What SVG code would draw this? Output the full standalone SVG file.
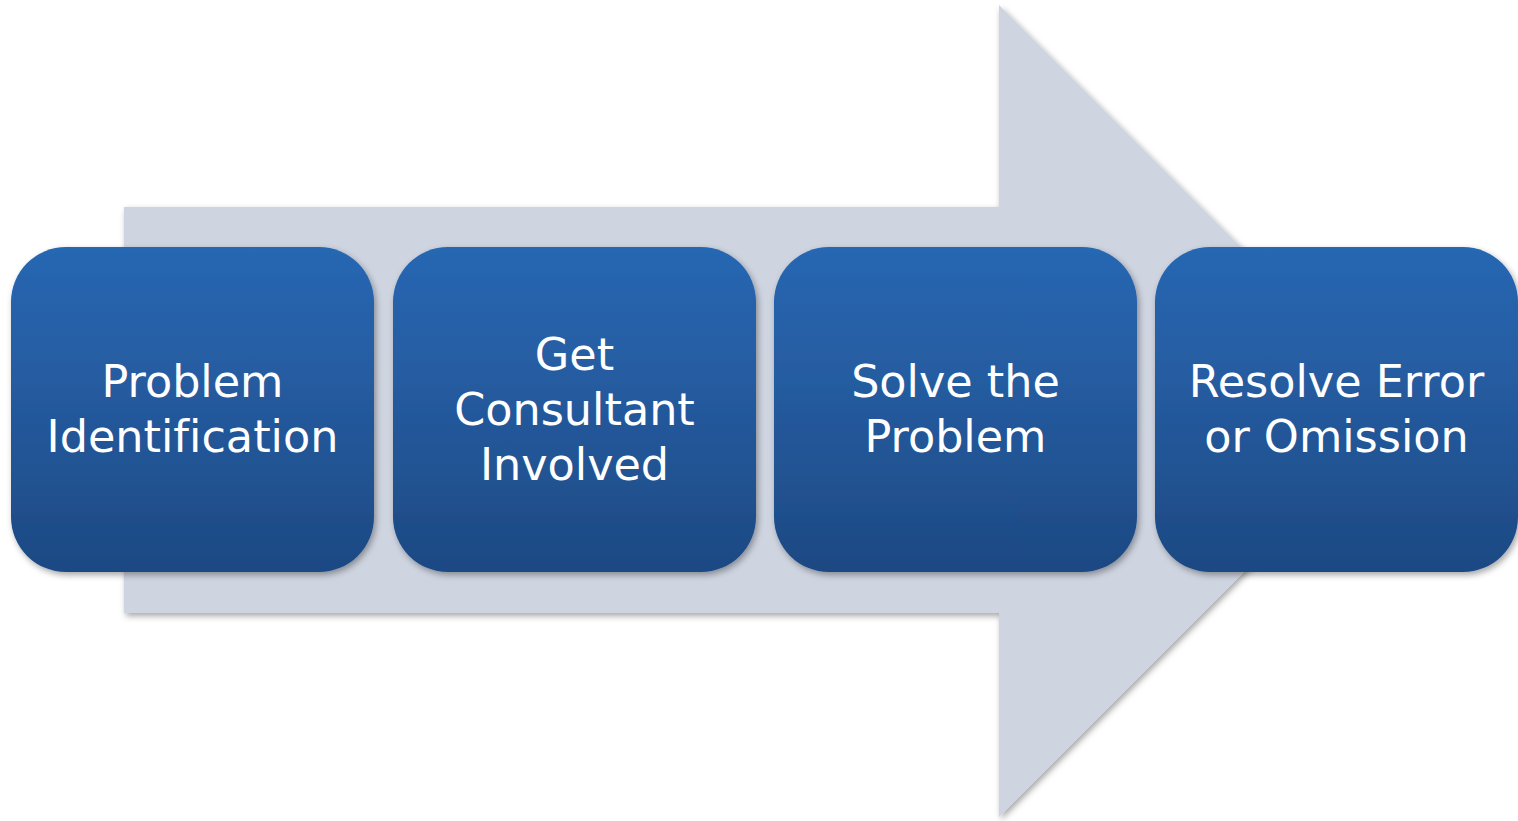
<svg xmlns="http://www.w3.org/2000/svg" width="1518" height="821" viewBox="0 0 1518 821">
<style>
.box{fill:url(#g);filter:url(#sh)}
.t{font-family:"DejaVu Sans","Open Sans",sans-serif;font-size:44.5px;fill:#fff;text-anchor:middle;font-variant-ligatures:none}
</style>
<defs>
<linearGradient id="g" x1="0" y1="0" x2="0" y2="1">
<stop offset="0" stop-color="#2867b2"/>
<stop offset="0.5" stop-color="#24599c"/>
<stop offset="1" stop-color="#1d4983"/>
</linearGradient>
<filter id="sh" x="-10%" y="-10%" width="120%" height="120%">
<feDropShadow dx="2" dy="3" stdDeviation="3" flood-color="#000" flood-opacity="0.35"/>
</filter>
</defs>
<g id="arrow">
<polygon points="124,207 999,207 999,5 1405,411 999,817 999,613 124,613" fill="#ced4e0" filter="url(#sh)"/>
</g>
<g id="connectors"></g>
<g id="n1">
<rect class="box" x="11" y="247" width="363" height="325" rx="55" ry="55"/>
<text class="t" x="192.5" y="397">Problem</text>
<text class="t" x="192.5" y="452">Identification</text>
</g>
<g id="n2">
<rect class="box" x="393" y="247" width="363" height="325" rx="55" ry="55"/>
<text class="t" x="574.5" y="370">Get</text>
<text class="t" x="574.5" y="425">Consultant</text>
<text class="t" x="574.5" y="480">Involved</text>
</g>
<g id="n3">
<rect class="box" x="774" y="247" width="363" height="325" rx="55" ry="55"/>
<text class="t" x="955.5" y="397">Solve the</text>
<text class="t" x="955.5" y="452">Problem</text>
</g>
<g id="n4">
<rect class="box" x="1155" y="247" width="363" height="325" rx="55" ry="55"/>
<text class="t" x="1336.5" y="397">Resolve Error</text>
<text class="t" x="1336.5" y="452">or Omission</text>
</g>
</svg>
